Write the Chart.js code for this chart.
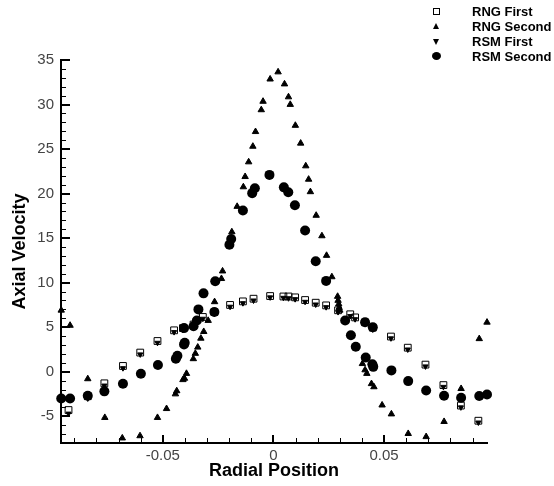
<!DOCTYPE html>
<html>
<head>
<meta charset="utf-8">
<script src="https://cdn.jsdelivr.net/npm/chart.js@4"></script>
<style>
  body { margin: 0; background: #fff; }
  #wrap { position: relative; width: 554px; height: 486px; }
  .leg { position: absolute; left: 0; height: 15px; width: 554px; font: bold 13px 'Liberation Sans', Arial, sans-serif; color: #000; }
  .leg span.t { position: absolute; left: 472px; top: 0; line-height: 15px; }
  .mk { position: absolute; }
  .sq { left: 433px; top: 4px; width: 5px; height: 5px; border: 1px solid #000; }
  .up { left: 433px; top: 4px; width: 0; height: 0; border-left: 3.5px solid transparent; border-right: 3.5px solid transparent; border-bottom: 6px solid #000; }
  .dn { left: 433px; top: 5px; width: 0; height: 0; border-left: 3.5px solid transparent; border-right: 3.5px solid transparent; border-top: 6px solid #000; }
  .ci { left: 432px; top: 3px; width: 9px; height: 8px; border-radius: 50%; background: #000; }
</style>
</head>
<body>
<div id="wrap">
  <canvas id="grafico" width="554" height="486"></canvas>
  <div class="leg" style="top:4px"><div class="mk sq"></div><span class="t">RNG First</span></div>
  <div class="leg" style="top:19px"><div class="mk up"></div><span class="t">RNG Second</span></div>
  <div class="leg" style="top:34px"><div class="mk dn"></div><span class="t">RSM First</span></div>
  <div class="leg" style="top:49px"><div class="mk ci"></div><span class="t">RSM Second</span></div>
</div>
<script>
// dados (posição radial, velocidade axial)
const rngFirstX = [-0.0926, -0.0839, -0.0764, -0.068, -0.0602, -0.0524, -0.0449, -0.0409, -0.0361, -0.0319, -0.0267, -0.0196, -0.0138, -0.009, -0.0015,
  0.0045, 0.0068, 0.0098, 0.0143, 0.0191, 0.0238, 0.0292, 0.0347, 0.0369, 0.0414, 0.0449, 0.0531, 0.0607, 0.0687, 0.0768, 0.0847, 0.0926];
const rngFirstY = [-4.3, -2.75, -1.3, 0.65, 2.15, 3.45, 4.65, 4.9, 5.3, 6.15, 6.7, 7.5, 7.9, 8.2, 8.5,
  8.45, 8.45, 8.35, 8.05, 7.75, 7.45, 6.9, 6.45, 6.1, 5.55, 4.95, 3.95, 2.7, 0.8, -1.5, -3.8, -5.5];

const rsmFirstX = [-0.0926, -0.0839, -0.0764, -0.068, -0.0602, -0.0524, -0.0449, -0.0409, -0.0361, -0.0319, -0.0267, -0.0196, -0.0138, -0.009, -0.0015,
  0.0045, 0.0068, 0.0098, 0.0143, 0.0191, 0.0238, 0.0292, 0.0347, 0.0369, 0.0414, 0.0449, 0.0531, 0.0607, 0.0687, 0.0768, 0.0847, 0.0926];
const rsmFirstY = [-4.7, -3.0, -1.55, 0.4, 1.95, 3.25, 4.45, 4.7, 5.1, 5.95, 6.5, 7.3, 7.7, 8.0, 8.35,
  8.3, 8.25, 8.15, 7.85, 7.55, 7.25, 6.7, 6.25, 5.9, 5.35, 4.75, 3.75, 2.5, 0.6, -1.7, -4.0, -5.7];

const rngSecondX = [-0.0959, -0.0919, -0.0839, -0.0762, -0.0683, -0.0603, -0.0524, -0.0483, -0.0443, -0.0437, -0.0409, -0.0402, -0.0393,
  -0.0362, -0.0353, -0.0342, -0.0328, -0.0315, -0.0295, -0.0266, -0.0235, -0.023, -0.0188, -0.0164, -0.0136, -0.0128, -0.0112, -0.0093,
  -0.0081, -0.0055, -0.0047, -0.0015, 0.0021, 0.005, 0.0068, 0.0076, 0.0099, 0.0123, 0.0146, 0.0159, 0.0167, 0.0193, 0.0219, 0.024,
  0.0264, 0.029, 0.0292, 0.0295, 0.0297, 0.03, 0.0402, 0.0414, 0.0422, 0.0443, 0.0454, 0.0491, 0.0533, 0.0609, 0.069, 0.0771, 0.0848, 0.093, 0.0965];
const rngSecondY = [6.9, 5.2, -0.8, -5.15, -7.45, -7.2, -5.15, -4.15, -2.5, -2.15, -0.9, -0.75, -0.2,
  1.45, 2.05, 2.75, 3.75, 4.5, 5.75, 7.85, 10.45, 11.3, 15.7, 18.55, 20.75, 21.9, 23.55, 25.3,
  26.95, 29.4, 30.35, 32.85, 33.65, 32.3, 30.85, 30.0, 27.65, 25.65, 23.1, 21.6, 20.2, 17.55, 15.25, 13.05,
  10.65, 8.45, 8.0, 7.6, 7.2, 6.9, 0.9, 0.2, -0.2, -1.35, -1.7, -3.75, -4.75, -6.95, -7.3, -5.6, -1.9, 3.7, 5.55];

const rsmSecondX = [-0.0959, -0.0919, -0.0839, -0.0764, -0.068, -0.0599, -0.0522, -0.0441, -0.0434, -0.0404, -0.0401, -0.0404, -0.0361,
  -0.0346, -0.0339, -0.0316, -0.0267, -0.0263, -0.0199, -0.0191, -0.0138, -0.0096, -0.0084, -0.0018,
  0.0047, 0.0067, 0.0097, 0.0143, 0.0191, 0.0238, 0.0324, 0.035, 0.0372, 0.0414, 0.0449, 0.0417, 0.0447, 0.0451,
  0.0533, 0.0609, 0.069, 0.0771, 0.0848, 0.093, 0.0965];
const rsmSecondY = [-3.0, -3.0, -2.7, -2.2, -1.35, -0.22, 0.75, 1.45, 1.8, 3.05, 3.25, 4.9, 5.1,
  5.75, 7.0, 8.8, 6.7, 10.15, 14.25, 14.9, 18.1, 20.05, 20.6, 22.1,
  20.7, 20.15, 18.7, 15.85, 12.4, 10.2, 5.75, 4.1, 2.8, 5.55, 5.0, 1.6, 0.85, 0.55,
  0.15, -1.05, -2.1, -2.7, -2.92, -2.72, -2.55];

const xTicks = [-0.05, 0, 0.05];
const xTickLabels = ['-0.05', '0', '0.05'];

function pontos(xs, ys) {
  return xs.map((x, i) => ({ x: x, y: ys[i] }));
}

const fonteEixo = "'Liberation Sans', Arial, sans-serif";

// marcas de escala para dentro (maiores e menores)
const marcasInternas = {
  id: 'marcasInternas',
  afterDraw(chart) {
    const { ctx, chartArea: a, scales: { x, y } } = chart;
    ctx.save();
    ctx.strokeStyle = '#000';
    for (let i = -9; i <= 9; i++) {
      const px = Math.round(x.getPixelForValue(i / 100));
      const maior = i % 5 === 0;
      ctx.lineWidth = maior ? 2 : 1;
      ctx.beginPath();
      ctx.moveTo(px + (maior ? 0 : 0.5), a.bottom);
      ctx.lineTo(px + (maior ? 0 : 0.5), a.bottom - (maior ? 8 : 5));
      ctx.stroke();
    }
    for (let v = -7; v <= 35; v++) {
      const py = Math.round(y.getPixelForValue(v));
      const maior = v % 5 === 0;
      ctx.lineWidth = maior ? 2 : 1;
      ctx.beginPath();
      ctx.moveTo(a.left, py + (maior ? 0 : 0.5));
      ctx.lineTo(a.left + (maior ? 9 : 5), py + (maior ? 0 : 0.5));
      ctx.stroke();
    }
    ctx.restore();
  }
};

new Chart(document.getElementById('grafico'), {
  type: 'scatter',
  data: {
    datasets: [
      { label: 'RNG First', data: pontos(rngFirstX, rngFirstY), pointStyle: 'rect', pointRadius: 4.8,
        borderColor: '#000', backgroundColor: 'rgba(255,255,255,0)', borderWidth: 1, clip: false, order: 2 },
      { label: 'RNG Second', data: pontos(rngSecondX, rngSecondY), pointStyle: 'triangle', pointRadius: 3.7,
        borderColor: '#000', backgroundColor: '#000', borderWidth: 1, clip: false, order: 3 },
      { label: 'RSM First', data: pontos(rsmFirstX, rsmFirstY), pointStyle: 'triangle', rotation: 180, pointRadius: 3,
        borderColor: '#000', backgroundColor: '#000', borderWidth: 1, clip: false, order: 1 },
      { label: 'RSM Second', data: pontos(rsmSecondX, rsmSecondY), pointStyle: 'circle', pointRadius: 5,
        borderColor: '#000', backgroundColor: '#000', borderWidth: 0, clip: false, order: 4 }
    ]
  },
  options: {
    responsive: false,
    animation: false,
    devicePixelRatio: 1,
    layout: { padding: { top: 60, right: 67, left: 0, bottom: 0 } },
    plugins: { legend: { display: false }, tooltip: { enabled: false } },
    scales: {
      x: {
        type: 'linear', min: -0.096, max: 0.0965,
        afterFit: s => { s.height = 43; },
        afterBuildTicks: s => { s.ticks = xTicks.map(v => ({ value: v })); },
        grid: { display: false, drawTicks: false },
        border: { display: true, color: '#000', width: 2 },
        ticks: {
          padding: 4, color: '#444', font: { family: fonteEixo, size: 15 },
          callback: v => xTickLabels[xTicks.indexOf(Math.round(v * 100) / 100)]
        },
        title: { display: true, text: 'Radial Position', color: '#000',
          font: { family: fonteEixo, size: 18, weight: 'bold' }, padding: { top: 0, bottom: 4 } }
      },
      y: {
        type: 'linear', min: -8, max: 35,
        afterFit: s => { s.width = 61; },
        grid: { display: false, drawTicks: false },
        border: { display: true, color: '#000', width: 2 },
        ticks: { stepSize: 5, includeBounds: false, padding: 7, color: '#444', font: { family: fonteEixo, size: 15 } },
        title: { display: true, text: 'Axial Velocity', color: '#000',
          font: { family: fonteEixo, size: 18, weight: 'bold' }, padding: { top: 9, bottom: 0 } }
      }
    }
  },
  plugins: [marcasInternas]
});
</script>
</body>
</html>
